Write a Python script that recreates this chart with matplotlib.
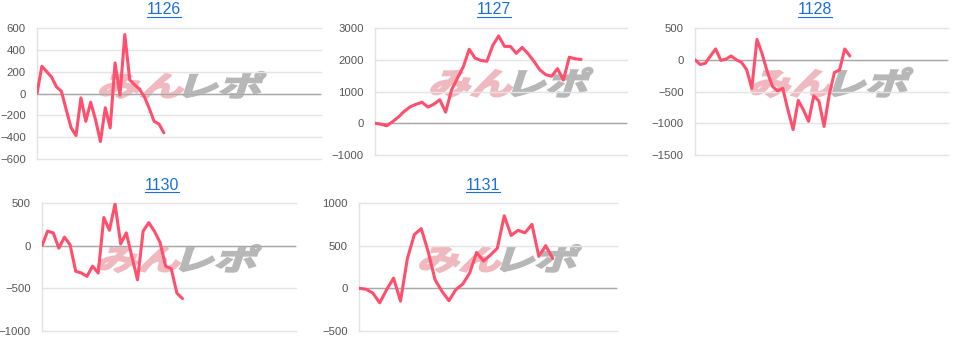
import matplotlib
matplotlib.use("Agg")
import matplotlib.pyplot as plt
from matplotlib.lines import Line2D
from matplotlib.textpath import TextPath
from matplotlib.patches import PathPatch
from matplotlib.font_manager import FontProperties
from matplotlib.transforms import Affine2D, IdentityTransform

plt.rcParams['font.family'] = ['Liberation Sans', 'DejaVu Sans']

# machine numbers (chart titles)
titles = ["1126", "1127", "1128", "1130", "1131"]

# coin difference per sample point
v1126 = [0, 250, 200, 150, 60, 20, -150, -315, -385, -40, -255, -80, -240, -440,
         -130, -315, 280, -15, 540, 125, 80, 40, -30, -135, -255, -280, -360]
v1127 = [0, -30, -80, 50, 200, 380, 520, 600, 660, 510, 600, 740, 350, 1050, 1420,
         1780, 2330, 2050, 1980, 1950, 2450, 2750, 2420, 2420, 2200, 2390, 2190,
         1950, 1680, 1530, 1480, 1720, 1360, 2080, 2030, 2010]
v1128 = [0, -75, -55, 60, 170, -10, 10, 60, 0, -40, -155, -450, 320, 95, -190,
         -420, -490, -450, -790, -1100, -640, -790, -970, -570, -650, -1050, -550,
         -200, -160, 170, 60]
v1130 = [0, 170, 150, -30, 100, 10, -300, -320, -360, -240, -320, 330, 180, 490,
         20, 150, -130, -400, 170, 270, 170, 40, -240, -270, -555, -620]
v1131 = [0, -10, -55, -170, -15, 120, -150, 350, 630, 700, 430, 100, -35, -145,
         -15, 50, 180, 420, 320, 390, 470, 850, 620, 680, 650, 750, 375, 500, 350]
series = [v1126, v1127, v1128, v1130, v1131]

yticks = [
    [-600, -400, -200, 0, 200, 400, 600],
    [-1000, 0, 1000, 2000, 3000],
    [-1500, -1000, -500, 0, 500],
    [-1000, -500, 0, 500],
    [-500, 0, 500, 1000],
]
xmax = [58.2, 42.8, 49.0, 45.2, 37.3]

W, H = 962, 341
# plot boxes in pixels: left, top, right, bottom
boxes = [(37, 28, 321, 159), (375, 28, 627, 155), (695, 28, 948, 155),
         (42, 203, 296, 331), (359, 203, 617, 331)]
title_pos = [(164, 10), (494, 10), (815, 10), (162, 185), (483, 185)]
mark_box = [(102, 72, 262, 98), (433, 68, 588, 97), (753, 68, 908, 97),
            (100, 245, 257, 272), (422, 245, 577, 272)]

fig = plt.figure(figsize=(W / 100, H / 100), dpi=100)
jp = FontProperties(family='Noto Sans CJK JP', weight='bold')


def watermark(box):
    l, t, r, b = box
    p1 = TextPath((0, 0), "みん", size=100, prop=jp)
    p2 = TextPath((0, 0), "レポ", size=100, prop=jp)
    e1, e2 = p1.get_extents(), p2.get_extents()
    gap = 5
    tot = e1.width + e2.width + gap
    ht = max(e1.y1, e2.y1) - min(e1.y0, e2.y0)
    sx = (r - l) / tot
    sy = (b - t) / ht
    y0 = H - b
    for p, e, off, col in [(p1, e1, 0, '#f0b9bf'), (p2, e2, e1.width + gap, '#b7b7b7')]:
        tr = (Affine2D().translate(-e.x0 + off, -min(e1.y0, e2.y0))
              .scale(sx, sy).skew_deg(18, 0).translate(l - 4, y0))
        fig.add_artist(PathPatch(tr.transform_path(p), facecolor=col, edgecolor=col,
                                 lw=1.6, transform=IdentityTransform(), zorder=1))


texts = []
for i in range(5):
    l, t, r, b = boxes[i]
    ax = fig.add_axes([l / W, 1 - b / H, (r - l) / W, (b - t) / H])
    ax.patch.set_alpha(0)
    ax.set_zorder(2)
    vals = series[i]
    ax.plot(range(len(vals)), vals, color='#ff4f6d', lw=2.2,
            solid_joinstyle='round', solid_capstyle='round', zorder=3)
    ax.set_xlim(0, xmax[i])
    ax.set_ylim(yticks[i][0], yticks[i][-1])
    ax.set_yticks(yticks[i])
    ax.set_xticks([])
    ax.tick_params(axis='y', length=0, pad=8, labelsize=8.2, labelcolor='#555555')
    for s in ['top', 'right', 'bottom']:
        ax.spines[s].set_visible(False)
    ax.spines['left'].set_color('#e2e2e2')
    ax.spines['left'].set_linewidth(1)
    ax.grid(axis='y', color='#e4e4e4', lw=1)
    for gl in ax.get_ygridlines():
        gl.set_clip_on(False)
    ax.axhline(0, color='#a8a8a8', lw=1, zorder=2)
    ax.set_axisbelow(True)

    watermark(mark_box[i])

    tx, ty = title_pos[i]
    texts.append(fig.text(tx / W, 1 - ty / H, titles[i], ha='center', va='center',
                          fontsize=11.5, color='#1a6fdc'))

fig.canvas.draw()
r = fig.canvas.get_renderer()
for t in texts:
    bb = t.get_window_extent(r)
    fig.add_artist(Line2D([bb.x0, bb.x1], [bb.y0 + 0.5, bb.y0 + 0.5], color='#1a6fdc',
                          lw=0.8, transform=IdentityTransform()))

fig.savefig("out.png", dpi=100)
